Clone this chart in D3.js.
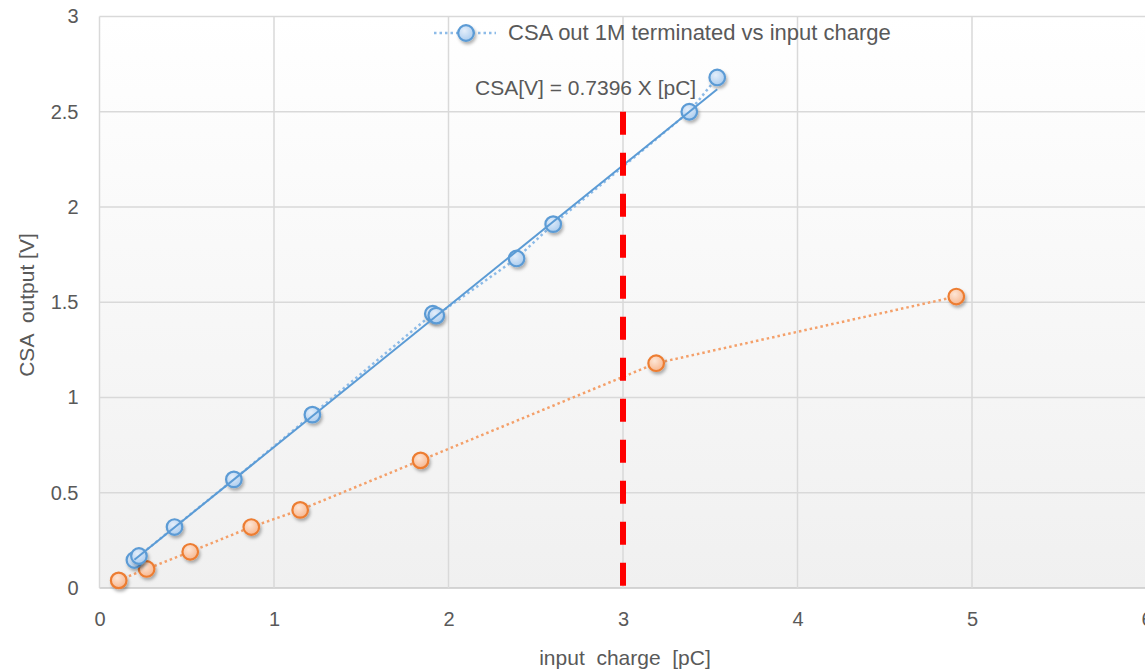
<!DOCTYPE html>
<html>
<head>
<meta charset="utf-8">
<script src="https://cdn.jsdelivr.net/npm/d3@7"></script>
<style>
  html, body { margin: 0; padding: 0; background: #ffffff; }
  svg { display: block; font-family: "Liberation Sans", Arial, sans-serif; }
</style>
</head>
<body>
<svg id="chart" width="1145" height="670"></svg>
<script>
// CSA output vs injected charge
const blueX = [0.20, 0.226, 0.43, 0.77, 1.22, 1.91, 1.93, 2.39, 2.60, 3.38, 3.54];
const blueY = [0.147, 0.168, 0.32, 0.57, 0.91, 1.44, 1.43, 1.73, 1.91, 2.50, 2.68];
const orangeX = [0.11, 0.27, 0.52, 0.87, 1.15, 1.84, 3.19, 4.91];
const orangeY = [0.04, 0.10, 0.19, 0.32, 0.41, 0.67, 1.18, 1.53];
const fitSlope = 0.7396;
const cutX = 3;
const cutTop = 2.5;
const xTicks = [0, 1, 2, 3, 4, 5, 6];
const yTicks = [0, 0.5, 1, 1.5, 2, 2.5, 3];
const legendLabel = "CSA out 1M terminated vs input charge";
const fitLabel = "CSA[V] = 0.7396 X [pC]";
const xTitle = "input  charge  [pC]";
const yTitle = "CSA  output [V]";

const svg = d3.select("#chart");
const x = d3.scaleLinear().domain([0, 6]).range([99.5, 1146.5]);
const y = d3.scaleLinear().domain([0, 3]).range([588, 16.5]);
const markerR = 7.8;

const defs = svg.append("defs");
const bg = defs.append("linearGradient").attr("id", "bg").attr("x1", 0).attr("y1", 0).attr("x2", 0).attr("y2", 1);
bg.append("stop").attr("offset", "0%").attr("stop-color", "#ffffff");
bg.append("stop").attr("offset", "100%").attr("stop-color", "#f0f0f0");

const shadow = defs.append("filter").attr("id", "shadow").attr("x", "-50%").attr("y", "-50%").attr("width", "200%").attr("height", "200%");
shadow.append("feDropShadow").attr("dx", 1.5).attr("dy", 2.5).attr("stdDeviation", 1.6)
  .attr("flood-color", "#000").attr("flood-opacity", 0.3);

const gBlue = defs.append("radialGradient").attr("id", "gBlue").attr("cx", "40%").attr("cy", "35%").attr("r", "70%");
gBlue.append("stop").attr("offset", "0%").attr("stop-color", "#e4eefa");
gBlue.append("stop").attr("offset", "100%").attr("stop-color", "#a9cbee");
const gOrange = defs.append("radialGradient").attr("id", "gOrange").attr("cx", "40%").attr("cy", "35%").attr("r", "70%");
gOrange.append("stop").attr("offset", "0%").attr("stop-color", "#fde6d6");
gOrange.append("stop").attr("offset", "100%").attr("stop-color", "#f7b48c");

// plot area background
svg.append("rect")
  .attr("x", x(0)).attr("y", y(3))
  .attr("width", x(6) - x(0)).attr("height", y(0) - y(3))
  .attr("fill", "url(#bg)");

// gridlines
const grid = svg.append("g").attr("stroke", "#d9d9d9").attr("stroke-width", 1.5);
grid.selectAll("line.h").data(yTicks).join("line").attr("class", "h")
  .attr("x1", x(0)).attr("x2", x(6)).attr("y1", d => y(d)).attr("y2", d => y(d))
  .attr("stroke", d => d === 0 ? "#c8c8c8" : "#d9d9d9");
grid.selectAll("line.v").data(xTicks).join("line").attr("class", "v")
  .attr("y1", y(0)).attr("y2", y(3)).attr("x1", d => x(d)).attr("x2", d => x(d));

// axes (labels only)
const xAxis = d3.axisBottom(x).tickValues(xTicks).tickSize(0).tickPadding(24).tickFormat(d3.format("d"));
const yAxis = d3.axisLeft(y).tickValues(yTicks).tickSize(0).tickPadding(21).tickFormat(d => d);
const gx = svg.append("g").attr("transform", `translate(0,${y(0)})`).call(xAxis);
const gy = svg.append("g").attr("transform", `translate(${x(0)},0)`).call(yAxis);
[gx, gy].forEach(g => {
  g.select(".domain").remove();
  g.selectAll("text").attr("fill", "#595959").attr("font-size", 20).attr("font-family", "'Liberation Sans', Arial, sans-serif");
});

// axis titles
svg.append("text").attr("x", 625).attr("y", 665).attr("text-anchor", "middle")
  .attr("fill", "#595959").attr("font-size", 21).style("white-space", "pre").text(xTitle);
svg.append("text").attr("transform", `translate(34,305) rotate(-90)`).attr("text-anchor", "middle")
  .attr("fill", "#595959").attr("font-size", 21).style("white-space", "pre").text(yTitle);

// series lines
const blueData = blueX.map((v, i) => [v, blueY[i]]);
const orangeData = orangeX.map((v, i) => [v, orangeY[i]]);
const line = d3.line().x(d => x(d[0])).y(d => y(d[1]));

svg.append("path").datum(orangeData).attr("d", line).attr("fill", "none")
  .attr("stroke", "#f4a06a").attr("stroke-width", 2.5).attr("stroke-dasharray", "2.5,3");
svg.append("path").datum(blueData).attr("d", line).attr("fill", "none")
  .attr("stroke", "#8dbbe8").attr("stroke-width", 2.5).attr("stroke-dasharray", "2.5,3");

// linear fit through origin
const fitX = d3.extent(blueX);
const fitLine = g => g.append("line")
  .attr("x1", x(fitX[0])).attr("y1", y(fitSlope * fitX[0]))
  .attr("x2", x(fitX[1])).attr("y2", y(fitSlope * fitX[1]))
  .attr("stroke", "#5b9bd5").attr("stroke-width", 2);

// markers
svg.append("g").selectAll("circle").data(orangeData).join("circle")
  .attr("cx", d => x(d[0])).attr("cy", d => y(d[1])).attr("r", markerR)
  .attr("fill", "url(#gOrange)").attr("stroke", "#ed7d31").attr("stroke-width", 2.2)
  .attr("filter", "url(#shadow)");
svg.append("g").selectAll("circle").data(blueData).join("circle")
  .attr("cx", d => x(d[0])).attr("cy", d => y(d[1])).attr("r", markerR)
  .attr("fill", "url(#gBlue)").attr("stroke", "#5b9bd5").attr("stroke-width", 2.2)
  .attr("filter", "url(#shadow)");

// fit drawn over markers so it crosses them
fitLine(svg);

// vertical cut at 3 pC
svg.append("line")
  .attr("x1", x(cutX)).attr("x2", x(cutX))
  .attr("y1", y(cutTop)).attr("y2", y(0))
  .attr("stroke", "#ff0000").attr("stroke-width", 6).attr("stroke-dasharray", "23,18");

// fit equation
svg.append("text").attr("x", 475).attr("y", 95).attr("fill", "#595959").attr("font-size", 21)
  .text(fitLabel);

// legend
const lg = svg.append("g");
lg.append("line").attr("x1", 434).attr("x2", 496).attr("y1", 33).attr("y2", 33)
  .attr("stroke", "#8dbbe8").attr("stroke-width", 2.5).attr("stroke-dasharray", "2.5,3");
lg.append("circle").attr("cx", 466).attr("cy", 33).attr("r", markerR)
  .attr("fill", "url(#gBlue)").attr("stroke", "#5b9bd5").attr("stroke-width", 2.2)
  .attr("filter", "url(#shadow)");
lg.append("text").attr("x", 508).attr("y", 40).attr("fill", "#595959").attr("font-size", 22)
  .text(legendLabel);
</script>
</body>
</html>
